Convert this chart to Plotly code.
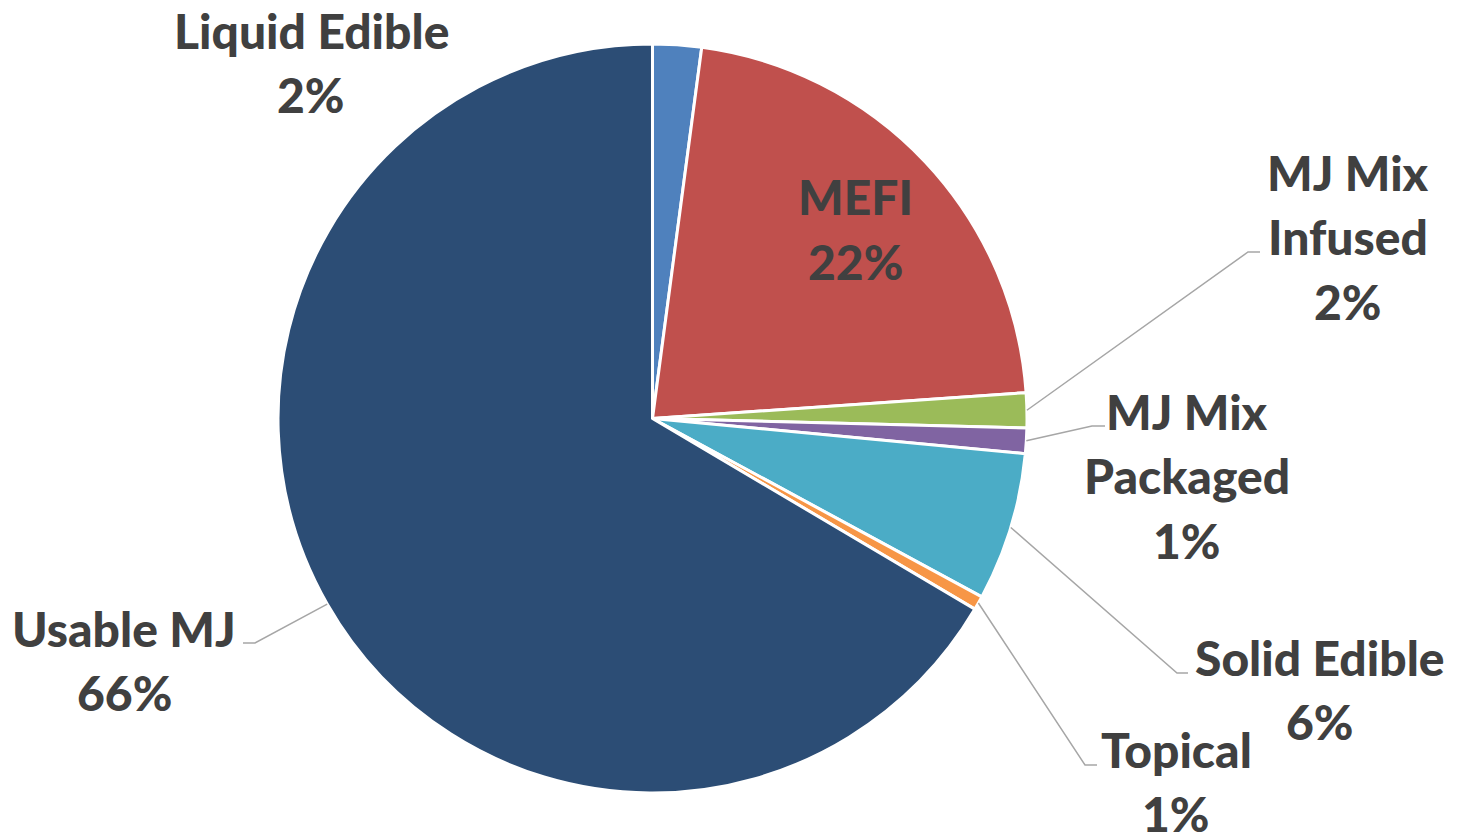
import math
import plotly.graph_objects as go

# ---- data ----
categories = ["Liquid Edible", "MEFI", "MJ Mix Infused", "MJ Mix Packaged",
              "Solid Edible", "Topical", "Usable MJ"]
values = [2.1, 21.8, 1.5, 1.1, 6.4, 0.6, 66.5]
label_lines = [["Liquid Edible"], ["MEFI"], ["MJ Mix", "Infused"], ["MJ Mix", "Packaged"],
               ["Solid Edible"], ["Topical"], ["Usable MJ"]]
pct_text = ["2%", "22%", "2%", "1%", "6%", "1%", "66%"]
colors = ["#4F81BD", "#C0504D", "#9BBB59", "#8064A2", "#4BACC6", "#F79646", "#2C4D75"]

# ---- layout constants (pixels) ----
W, H = 1463, 834
CX, CY, R = 652.5, 418.5, 374.5
FONT = "Lato"
TXT_COLOR = "#404040"
FSIZE = 48
LINE_STEP = 64.5

# label positions: (center x, center y of first line), pixels
label_pos = [(311, 30), (855, 197), (1348, 172), (1187, 411),
             (1320, 657), (1176, 749), (124, 628)]
# leader elbows: (elbow, end) pixels; None for no leader
leaders = [None, None,
           ((1248, 252), (1260, 252)),
           ((1092, 426), (1105, 426)),
           ((1177, 673), (1188, 673)),
           ((1085, 765), (1097, 765)),
           ((255, 643), (243, 643))]


def px(x):
    return x / W


def py(y):
    return 1 - y / H


fig = go.Figure(go.Pie(
    labels=categories,
    values=values,
    sort=False,
    direction="clockwise",
    rotation=0,
    marker=dict(colors=colors, line=dict(color="white", width=3)),
    textinfo="none",
    hoverinfo="label+percent",
    domain=dict(x=[px(CX - R), px(CX + R)], y=[py(CY + R), py(CY - R)]),
    showlegend=False,
))

annotations = []
shapes = []
total = sum(values)
cum = 0.0
for i, v in enumerate(values):
    mid = (cum + v / 2) / total * 2 * math.pi
    cum += v
    lx, ly = label_pos[i]
    lines = label_lines[i] + [pct_text[i]]
    for k, line in enumerate(lines):
        annotations.append(dict(
            x=px(lx), y=py(ly + k * LINE_STEP), xref="paper", yref="paper",
            text=line,
            showarrow=False, xanchor="center", yanchor="middle",
            font=dict(family=FONT, size=FSIZE, color=TXT_COLOR, weight=900),
        ))
    if leaders[i] is not None:
        sx = CX + R * math.sin(mid)
        sy = CY - R * math.cos(mid)
        (ex, ey), (fx, fy) = leaders[i]
        path = f"M {px(sx)},{py(sy)} L {px(ex)},{py(ey)} L {px(fx)},{py(fy)}"
        shapes.append(dict(type="path", xref="paper", yref="paper", path=path,
                           line=dict(color="#A6A6A6", width=1.5)))

fig.update_layout(
    width=W, height=H,
    margin=dict(l=0, r=0, t=0, b=0),
    paper_bgcolor="white", plot_bgcolor="white",
    annotations=annotations, shapes=shapes,
)

fig.write_html("out.html", config={"displayModeBar": False},
               post_script="document.body.style.margin='0';document.body.style.overflow='hidden';")
